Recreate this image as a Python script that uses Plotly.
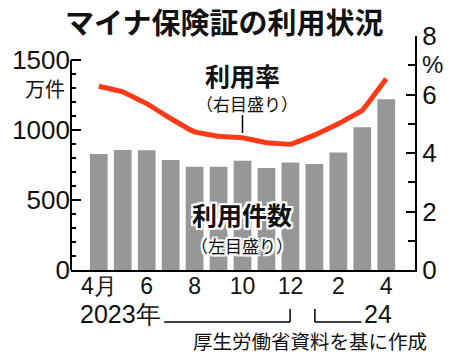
import plotly.graph_objects as go

# ---- data ----
months = ["2023-04", "2023-05", "2023-06", "2023-07", "2023-08", "2023-09", "2023-10",
          "2023-11", "2023-12", "2024-01", "2024-02", "2024-03", "2024-04"]
usage_count = [829, 857, 855, 786, 738, 738, 781, 729, 767, 757, 840, 1019, 1219]  # 万件
usage_rate = [6.28, 6.09, 5.69, 5.18, 4.72, 4.57, 4.52, 4.35, 4.30, 4.61, 5.00, 5.46, 6.54]  # %
xtick_vals = ["2023-04", "2023-06", "2023-08", "2023-10", "2023-12", "2024-02", "2024-04"]
xtick_text = ["4月", "6", "8", "10", "12", "2", "4"]
left_ticks = [0, 500, 1000, 1500]
right_ticks = [0, 2, 4, 6, 8]

W, H = 450, 355
L, R, T, B = 68, 35, 36, 85
PW, PH = W - L - R, H - T - B


def px(x):
    return (x - L) / PW


def py(y):
    return (H - B - y) / PH


JP = "Noto Sans CJK JP"
NUM = "Liberation Sans"
white_halo = ("2px 0 0 #fff, -2px 0 0 #fff, 0 2px 0 #fff, 0 -2px 0 #fff, "
              "2px 2px 0 #fff, -2px -2px 0 #fff, 2px -2px 0 #fff, -2px 2px 0 #fff")

fig = go.Figure()
fig.add_trace(go.Bar(x=months, y=usage_count, marker=dict(color="#979797", line=dict(width=0)),
                     width=0.74, yaxis="y", hoverinfo="skip"))
fig.add_trace(go.Scatter(x=months, y=usage_rate, mode="lines", yaxis="y2",
                         line=dict(color="#FF3A17", width=5, shape="spline", smoothing=0.15),
                         hoverinfo="skip"))

fig.update_layout(
    width=W, height=H,
    margin=dict(l=L, r=R, t=T, b=B),
    paper_bgcolor="white", plot_bgcolor="white",
    showlegend=False,
    xaxis=dict(type="category", range=[-1.16, 13.2], showline=True, linecolor="black", linewidth=2,
               ticks="", tickvals=xtick_vals, ticktext=xtick_text, showgrid=False, zeroline=False,
               tickfont=dict(family=NUM, size=23, color="#111"), ticklabelstandoff=-6),
    yaxis=dict(range=[0, 1500 * PH / 210], showline=False, showgrid=False, zeroline=False,
               tickvals=left_ticks, ticks="inside", ticklen=10, tickwidth=2, tickcolor="black",
               tickfont=dict(family=NUM, size=26, color="#111"),
               minor=dict(tickvals=[v for v in range(100, 1500, 100) if v % 500], ticks="inside",
                          ticklen=5, tickwidth=1.5, tickcolor="black", showgrid=False)),
    yaxis2=dict(range=[0, 8], overlaying="y", side="right", showline=True, linecolor="black",
                linewidth=2, showgrid=False, zeroline=False, tickvals=right_ticks,
                ticks="inside", ticklen=9, tickwidth=2, tickcolor="black",
                tickfont=dict(family=NUM, size=26, color="#111"),
                minor=dict(tickvals=[1, 3, 5, 7], ticks="inside", ticklen=7, tickwidth=1.5,
                           tickcolor="black", showgrid=False)),
)

# left axis line (only up to 1500)
fig.add_shape(type="line", xref="paper", yref="y", x0=0, x1=0, y0=0, y1=1500,
              line=dict(color="black", width=2))

shapes_line = dict(color="black", width=1.5)
# 2023 bracket
fig.add_shape(type="line", xref="paper", yref="paper", x0=px(162), x1=px(289), y0=py(322), y1=py(322), line=shapes_line)
fig.add_shape(type="line", xref="paper", yref="paper", x0=px(289), x1=px(289), y0=py(322), y1=py(309), line=shapes_line)
# 2024 bracket
fig.add_shape(type="line", xref="paper", yref="paper", x0=px(314), x1=px(314), y0=py(322), y1=py(309), line=shapes_line)
fig.add_shape(type="line", xref="paper", yref="paper", x0=px(314), x1=px(361), y0=py(322), y1=py(322), line=shapes_line)
# leader line for 利用率
fig.add_shape(type="line", xref="paper", yref="paper", x0=px(241), x1=px(241), y0=py(115), y1=py(133),
              line=dict(color="black", width=1.5))

anns = [
    dict(text="<b>マイナ保険証の利用状況</b>", x=px(222), y=py(21), size=29, fam=JP),
    dict(text="万件", x=px(42), y=py(88), size=20, fam=JP),
    dict(text="%", x=px(433), y=py(64), size=24, fam=NUM),
    dict(text="<b>利用率</b>", x=px(241), y=py(75), size=25, fam=JP),
    dict(text="（右目盛り）", x=px(246), y=py(103), size=17, fam=JP),
    dict(text="<b>利用件数</b>", x=px(240), y=py(214), size=25, fam=JP, halo=True),
    dict(text="（左目盛り）", x=px(240), y=py(245), size=17, fam=JP, halo=True),
    dict(text="2023年", x=px(161), y=py(314), size=25, fam=NUM, xa="right"),
    dict(text="24", x=px(362), y=py(314), size=25, fam=NUM, xa="left"),
    dict(text="厚生労働省資料を基に作成", x=px(429), y=py(340), size=19.5, fam=JP, xa="right"),
]
for a in anns:
    font = dict(family=a["fam"], size=a["size"], color="#111")
    if a.get("halo"):
        font["shadow"] = white_halo
    fig.add_annotation(text=a["text"], x=a["x"], y=a["y"], xref="paper", yref="paper",
                       xanchor=a.get("xa", "center"), yanchor="middle", showarrow=False,
                       font=font)

fig.write_html("out.html")
